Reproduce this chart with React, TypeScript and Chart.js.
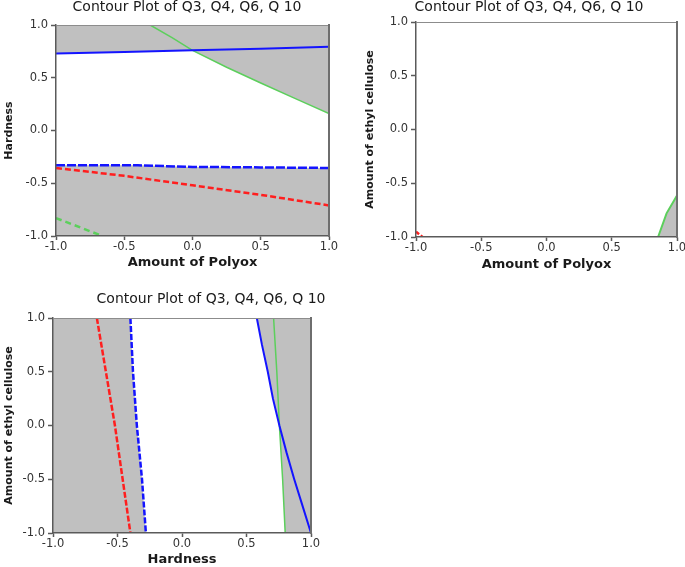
import React, { useEffect, useRef } from 'react';
import { Chart, registerables } from 'chart.js';

Chart.register(...registerables);

// ---------- data ----------
const TITLE = 'Contour Plot of Q3, Q4, Q6, Q 10';
const TICK_VALUES = [-1, -0.5, 0, 0.5, 1];
const AX_MIN = -1;
const AX_MAX = 1;

// Plot 1: x = Amount of Polyox, y = Hardness
const p1BlueSolid = [[-1, 0.73], [-0.5, 0.745], [0, 0.76], [0.5, 0.775], [1, 0.795]];
const p1GreenSolid = [[-0.31, 1.0], [-0.15, 0.88], [0, 0.76], [0.25, 0.6], [0.5, 0.45], [0.75, 0.305], [1, 0.16]];
const p1BlueDash = [[-1, -0.33], [-0.4, -0.33], [0, -0.345], [0.5, -0.35], [1, -0.355]];
const p1RedDash = [[-1, -0.355], [-0.5, -0.43], [0, -0.52], [0.5, -0.61], [1, -0.71]];
const p1GreenDash = [[-1, -0.83], [-0.66, -1.0]];

// Plot 2: x = Amount of Polyox, y = Amount of ethyl cellulose
const p2GreenSolid = [[0.855, -1.0], [0.92, -0.78], [1, -0.615]];
const p2RedDash = [[-1, -0.95], [-0.95, -1.0]];

// Plot 3: x = Hardness, y = Amount of ethyl cellulose
const p3RedDash = [[-0.66, 1], [-0.59, 0.5], [-0.52, 0], [-0.46, -0.5], [-0.4, -1]];
const p3BlueDash = [[-0.4, 1], [-0.38, 0.5], [-0.35, 0], [-0.31, -0.5], [-0.28, -1]];
const p3BlueSolid = [[0.58, 1], [0.62, 0.75], [0.665, 0.5], [0.705, 0.25], [0.755, 0], [0.81, -0.25], [0.87, -0.5], [0.935, -0.75], [1, -1]];
const p3GreenSolid = [[0.71, 1], [0.735, 0.5], [0.755, 0], [0.78, -0.5], [0.8, -1]];

// ---------- styles ----------
const FONT = 'DejaVu Sans';
const GRAY = '#c0c0c0';
const BLUE = '#1414ff';
const RED = '#ff1e1e';
const GREEN = '#5ccf5c';
const AXIS = '#5a5a5a';
const TEXT = '#1a1a1a';
const TICK_TEXT = '#333333';

const toPts = (arr: number[][]) => arr.map(([x, y]) => ({ x, y }));

function lineDs(arr: number[][], color: string, dash: number[], width: number) {
  return {
    data: toPts(arr),
    showLine: true,
    borderColor: color,
    borderWidth: width,
    borderDash: dash,
    pointRadius: 0,
    fill: false,
    tension: 0,
    order: 0,
    xAxisID: 'x',
    yAxisID: 'y',
  };
}

function areaDs(arr: number[][]) {
  return {
    data: toPts(arr),
    showLine: true,
    borderColor: 'rgba(0,0,0,0)',
    borderWidth: 0,
    backgroundColor: GRAY,
    fill: 'shape',
    pointRadius: 0,
    tension: 0,
    order: 5,
    xAxisID: 'x',
    yAxisID: 'y',
  };
}

const setTicks = (s: any) => {
  s.ticks = TICK_VALUES.map((v) => ({ value: v }));
};
const fmt = (v: any) => Number(v).toFixed(1);

interface Cfg {
  left: number; top: number; w: number; h: number;
  yW: number; y2W: number; xH: number;
  tPadTop: number; tPadBottom: number;
  xTitle: string; yTitle: string;
  xTitlePad: number; yTitlePad: number;
  datasets: any[];
}

function buildConfig(cfg: Cfg): any {
  const tickFont = { family: FONT, size: 11.5 };
  return {
    type: 'scatter',
    data: { datasets: cfg.datasets },
    options: {
      animation: false,
      responsive: false,
      maintainAspectRatio: false,
      events: [],
      layout: { padding: 0 },
      plugins: {
        legend: { display: false },
        tooltip: { enabled: false },
        title: {
          display: true,
          text: TITLE,
          fullSize: true,
          align: 'center',
          color: TEXT,
          font: { family: FONT, size: 14, weight: 'normal', lineHeight: 1 },
          padding: { top: cfg.tPadTop, bottom: cfg.tPadBottom },
        },
      },
      scales: {
        x: {
          type: 'linear',
          position: 'bottom',
          min: AX_MIN,
          max: AX_MAX,
          afterBuildTicks: setTicks,
          ticks: { font: tickFont, color: TICK_TEXT, padding: 0, maxRotation: 0, autoSkip: false, callback: fmt, z: 1 },
          grid: { drawOnChartArea: false, drawTicks: true, tickLength: 4, tickColor: AXIS, tickWidth: 1.5, color: AXIS },
          border: { display: true, color: AXIS, width: 1.5, z: 1 },
          title: {
            display: true,
            text: cfg.xTitle,
            color: TEXT,
            font: { family: FONT, size: 13, weight: 'bold' },
            padding: { top: 0, bottom: cfg.xTitlePad },
          },
          afterFit: (s: any) => { s.height = cfg.xH; s.paddingLeft = 0; s.paddingRight = 0; },
        },
        y: {
          type: 'linear',
          position: 'left',
          min: AX_MIN,
          max: AX_MAX,
          afterBuildTicks: setTicks,
          ticks: { font: tickFont, color: TICK_TEXT, padding: 3, autoSkip: false, callback: fmt, z: 1 },
          grid: { drawOnChartArea: false, drawTicks: true, tickLength: 5, tickColor: AXIS, tickWidth: 1.5, color: AXIS },
          border: { display: true, color: AXIS, width: 1.5, z: 1 },
          title: {
            display: true,
            text: cfg.yTitle,
            color: TEXT,
            font: { family: FONT, size: 11, weight: 'bold' },
            padding: { top: cfg.yTitlePad, bottom: 0 },
          },
          afterFit: (s: any) => { s.width = cfg.yW; s.paddingTop = 0; s.paddingBottom = 0; },
        },
        x2: {
          type: 'linear',
          position: 'top',
          min: AX_MIN,
          max: AX_MAX,
          ticks: { display: false },
          grid: { drawOnChartArea: false, drawTicks: false },
          border: { display: true, color: '#8c8c8c', width: 1, z: 1 },
          afterFit: (s: any) => { s.height = 0; s.paddingLeft = 0; s.paddingRight = 0; },
        },
        y2: {
          type: 'linear',
          position: 'right',
          min: AX_MIN,
          max: AX_MAX,
          ticks: { display: false },
          grid: { drawOnChartArea: false, drawTicks: false },
          border: { display: true, color: '#6e6e6e', width: 2, z: 1 },
          afterFit: (s: any) => { s.width = cfg.y2W; s.paddingTop = 0; s.paddingBottom = 0; },
        },
      },
    },
  };
}

// ---------- fills (built from the contour arrays) ----------
const p1TopFill = [
  ...p1BlueSolid.filter(([x]) => x <= 0),
  ...p1GreenSolid.filter(([x]) => x > 0),
  [AX_MAX, AX_MAX],
  [AX_MIN, AX_MAX],
];
const p1BottomFill = [...p1BlueDash, [AX_MAX, AX_MIN], [AX_MIN, AX_MIN]];
const p2Fill = [...p2GreenSolid, [AX_MAX, AX_MIN]];
const p3LeftFill = [[AX_MIN, AX_MAX], ...p3BlueDash, [AX_MIN, AX_MIN]];
const p3RightFill = [
  ...p3BlueSolid.filter(([, y]) => y >= 0),
  ...p3GreenSolid.filter(([, y]) => y < 0),
  [AX_MAX, AX_MIN],
  [AX_MAX, AX_MAX],
];

const CHARTS: Cfg[] = [
  {
    left: 0, top: 0, w: 374, h: 280,
    yW: 56, y2W: 45, xH: 44,
    tPadTop: 0, tPadBottom: 11,
    xTitle: 'Amount of Polyox', yTitle: 'Hardness',
    xTitlePad: 9.2, yTitlePad: 2.9,
    datasets: [
      lineDs(p1BlueSolid, BLUE, [], 2),
      lineDs(p1GreenSolid, GREEN, [], 1.5),
      lineDs(p1BlueDash, BLUE, [9, 2], 2.5),
      lineDs(p1RedDash, RED, [6, 3], 2.5),
      lineDs(p1GreenDash, GREEN, [6, 4], 2.5),
      areaDs(p1TopFill),
      areaDs(p1BottomFill),
    ],
  },
  {
    left: 340, top: 0, w: 378, h: 280,
    yW: 76, y2W: 41, xH: 43,
    tPadTop: 0, tPadBottom: 8,
    xTitle: 'Amount of Polyox', yTitle: 'Amount of ethyl cellulose',
    xTitlePad: 7.2, yTitlePad: 23.4,
    datasets: [
      lineDs(p2GreenSolid, GREEN, [], 2),
      lineDs(p2RedDash, RED, [4, 2], 2.5),
      areaDs(p2Fill),
    ],
  },
  {
    left: 0, top: 280, w: 422, h: 287,
    yW: 53, y2W: 111, xH: 34,
    tPadTop: 12, tPadBottom: 12,
    xTitle: 'Hardness', yTitle: 'Amount of ethyl cellulose',
    xTitlePad: 0, yTitlePad: 2.4,
    datasets: [
      lineDs(p3RedDash, RED, [6, 2], 2.5),
      lineDs(p3BlueDash, BLUE, [6, 2], 2.5),
      lineDs(p3BlueSolid, BLUE, [], 2),
      lineDs(p3GreenSolid, GREEN, [], 1.5),
      areaDs(p3LeftFill),
      areaDs(p3RightFill),
    ],
  },
];

function ContourChart({ cfg }: { cfg: Cfg }) {
  const ref = useRef<HTMLCanvasElement | null>(null);
  useEffect(() => {
    if (!ref.current) return;
    const chart = new Chart(ref.current, buildConfig(cfg));
    return () => chart.destroy();
  }, [cfg]);
  return (
    <canvas
      ref={ref}
      width={cfg.w}
      height={cfg.h}
      style={{ position: 'absolute', left: cfg.left, top: cfg.top, width: cfg.w, height: cfg.h }}
    />
  );
}

export default function App() {
  return (
    <div
      style={{
        position: 'fixed',
        left: 0,
        top: 0,
        width: 685,
        height: 567,
        overflow: 'hidden',
        background: '#ffffff',
      }}
    >
      {CHARTS.map((c, i) => (
        <ContourChart key={i} cfg={c} />
      ))}
    </div>
  );
}
